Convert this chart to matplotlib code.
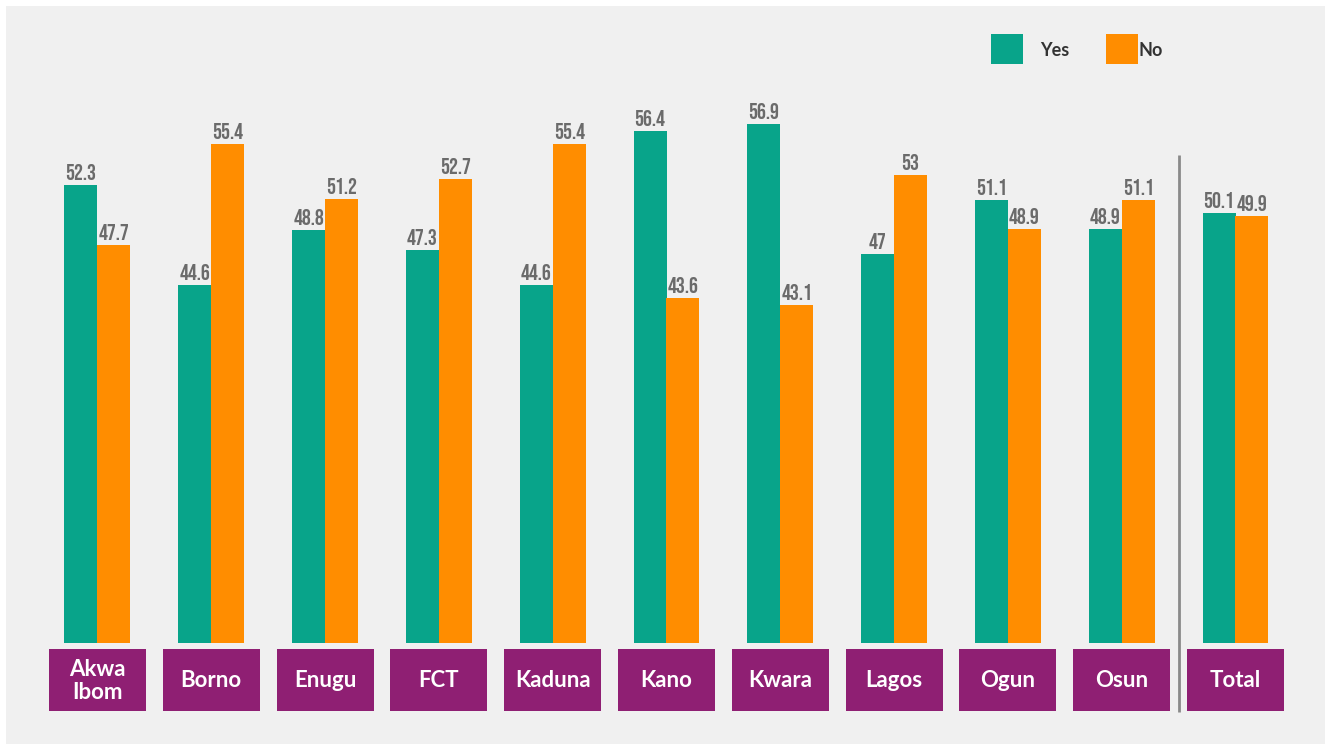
import matplotlib
matplotlib.use("Agg")
import matplotlib.pyplot as plt
from matplotlib.patches import Rectangle
import numpy as np

categories = ["Akwa\nIbom", "Borno", "Enugu", "FCT", "Kaduna", "Kano", "Kwara", "Lagos", "Ogun", "Osun", "Total"]
yes_vals = [52.3, 44.6, 48.8, 47.3, 44.6, 56.4, 56.9, 47.0, 51.1, 48.9, 50.1]
no_vals = [47.7, 55.4, 51.2, 52.7, 55.4, 43.6, 43.1, 53.0, 48.9, 51.1, 49.9]
yes_labels = ["52.3", "44.6", "48.8", "47.3", "44.6", "56.4", "56.9", "47", "51.1", "48.9", "50.1"]
no_labels = ["47.7", "55.4", "51.2", "52.7", "55.4", "43.6", "43.1", "53", "48.9", "51.1", "49.9"]

TEAL = "#08A48A"
ORANGE = "#FF8D00"
PURPLE = "#8F1F73"
BG = "#F0F0F0"
VAL_COLOR = "#6B6B6B"

W, H = 1325, 744
fig = plt.figure(figsize=(W / 100, H / 100), dpi=100)
fig.patch.set_facecolor("white")
fig.add_artist(Rectangle((6 / W, 0), 1 - 6 / W, 1 - 6 / H, transform=fig.transFigure,
                         facecolor=BG, edgecolor="none", zorder=0))

ax = fig.add_axes([0, 0, 1, 1])
ax.set_facecolor("none")
ax.set_axis_off()

# pixel mapping
px_per_cat = 113.8
x0_px = 97.5
ax.set_xlim(-x0_px / px_per_cat, (W - x0_px) / px_per_cat)
slope = 13.07
ref_val, ref_px = 50.0, 214.6
def val_at(py):
    return ref_val - (py - ref_px) / slope
ax.set_ylim(val_at(H), val_at(0))
base = val_at(643)

x = np.arange(len(categories))
bw = 33 / px_per_cat
ax.bar(x - bw / 2, np.array(yes_vals) - base, bottom=base, width=bw, color=TEAL, zorder=2)
ax.bar(x + bw / 2, np.array(no_vals) - base, bottom=base, width=bw, color=ORANGE, zorder=2)

val_font = dict(family=["Bebas Neue", "DejaVu Sans"], fontsize=16,
                color=VAL_COLOR, ha="center", va="baseline")
off = 5 / slope
for xi, v, lab in zip(x, yes_vals, yes_labels):
    ax.text(xi - bw / 2, v + off, lab, **val_font)
for xi, v, lab in zip(x, no_vals, no_labels):
    ax.text(xi + bw / 2, v + off, lab, **val_font)

# category boxes
box_w = 97 / px_per_cat
y_top, y_bot = val_at(649), val_at(711)
for xi, cat in zip(x, categories):
    ax.add_patch(Rectangle((xi - box_w / 2, y_bot), box_w, y_top - y_bot,
                           facecolor=PURPLE, edgecolor="none", zorder=2))
    ax.text(xi, (y_top + y_bot) / 2 - 0.05, cat, ha="center", va="center", color="white",
            fontsize=16, fontweight="bold", family="Lato", linespacing=1.1, zorder=3)

# separator
sep_x = (1179 - x0_px) / px_per_cat
ax.plot([sep_x, sep_x], [val_at(155), val_at(712)], color="#8A8A8A", lw=2, zorder=2,
        solid_capstyle="butt")

# legend
def fx(px):
    return px / W
def fy(py):
    return 1 - py / H
fig.add_artist(Rectangle((fx(991), fy(64)), 32 / W, 30 / H, transform=fig.transFigure,
                         facecolor=TEAL, edgecolor="none"))
fig.add_artist(Rectangle((fx(1106), fy(64)), 32 / W, 30 / H, transform=fig.transFigure,
                         facecolor=ORANGE, edgecolor="none"))
fig.text(fx(1040), fy(50), "Yes", ha="left", va="center", fontsize=13, fontweight="bold",
         color="#333333", family="Lato")
fig.text(fx(1139), fy(50), "No", ha="left", va="center", fontsize=13, fontweight="bold",
         color="#333333", family="Lato")

fig.savefig("out.png", dpi=100, facecolor=fig.get_facecolor())
